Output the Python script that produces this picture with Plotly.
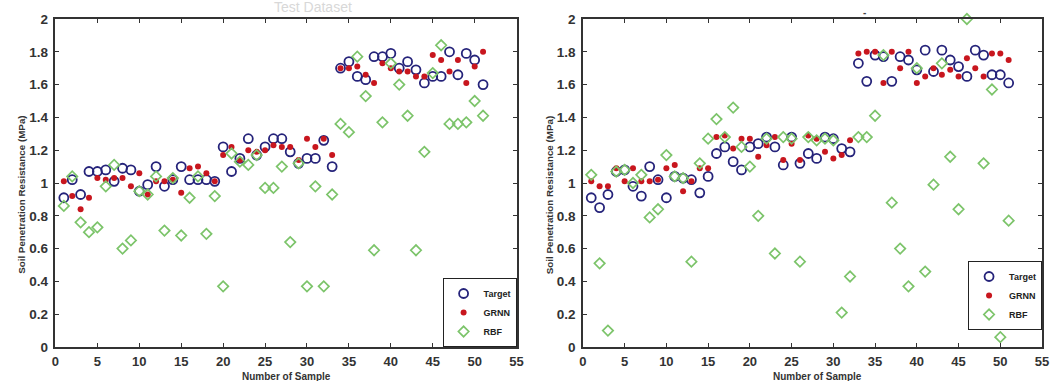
import plotly.graph_objects as go

samples = list(range(1, 52))

target_left = [0.91,1.02,0.93,1.07,1.07,1.08,1.01,1.09,1.08,0.95,
               0.99,1.10,0.98,1.02,1.10,1.02,1.02,1.02,1.01,1.22,
               1.07,1.15,1.27,1.17,1.22,1.27,1.27,1.19,1.12,1.15,
               1.15,1.26,1.10,1.70,1.74,1.65,1.63,1.77,1.77,1.79,
               1.70,1.74,1.69,1.61,1.65,1.65,1.80,1.66,1.79,1.75,1.60]
grnn_left = [1.01,0.92,0.84,0.91,1.03,1.02,1.03,1.03,0.98,1.06,
             0.93,1.01,1.01,1.02,0.94,1.09,1.10,1.06,1.01,1.17,
             1.22,1.14,1.20,1.19,1.20,1.23,1.22,1.22,1.14,1.27,
             1.22,1.27,1.17,1.70,1.70,1.71,1.66,1.61,1.73,1.70,
             1.68,1.68,1.65,1.65,1.78,1.75,1.68,1.75,1.61,1.71,1.80]
rbf_left = [0.86,1.04,0.76,0.70,0.73,0.98,1.11,0.60,0.65,0.95,
            0.93,1.04,0.71,1.03,0.68,0.91,1.04,0.69,0.92,0.37,
            1.18,1.13,1.11,1.17,0.97,0.97,1.10,0.64,1.12,0.37,
            0.98,0.37,0.93,1.36,1.31,1.77,1.53,0.59,1.37,1.73,
            1.60,1.41,0.59,1.19,1.67,1.84,1.36,1.36,1.37,1.50,1.41]

target_right = [0.91,0.85,0.93,1.07,1.08,0.98,0.92,1.10,1.02,0.91,
                1.04,1.03,1.02,0.94,1.04,1.18,1.22,1.13,1.08,1.22,
                1.24,1.28,1.22,1.11,1.28,1.12,1.18,1.15,1.28,1.27,
                1.21,1.19,1.73,1.62,1.78,1.77,1.62,1.77,1.75,1.69,
                1.81,1.68,1.81,1.75,1.71,1.65,1.81,1.78,1.66,1.66,1.61]
grnn_right = [1.01,0.98,0.98,1.09,1.01,1.09,1.01,1.01,1.02,1.09,
              1.11,0.95,1.01,1.09,1.09,1.28,1.29,1.21,1.27,1.27,
              1.16,1.23,1.28,1.14,1.24,1.14,1.29,1.27,1.19,1.15,
              1.17,1.26,1.79,1.80,1.80,1.61,1.80,1.70,1.80,1.61,
              1.65,1.70,1.66,1.69,1.65,1.76,1.70,1.65,1.79,1.79,1.75]
rbf_right = [1.05,0.51,0.10,1.07,1.08,1.00,1.05,0.79,0.84,1.17,
             1.04,1.03,0.52,1.12,1.27,1.39,1.28,1.46,1.22,1.10,
             0.80,1.27,0.57,1.28,1.27,0.52,1.28,1.26,1.27,1.26,
             0.21,0.43,1.28,1.28,1.41,1.78,0.88,0.60,0.37,1.70,
             0.46,0.99,1.73,1.16,0.84,2.00,0.46,1.12,1.57,0.06,0.77]

x_ticks = [0, 5, 10, 15, 20, 25, 30, 35, 40, 45, 50, 55]
x_ticktext = ["0", "5", "10", "15", "20", "25", "30", "35", "40", "45", "50", "55"]
y_ticks = [0, 0.2, 0.4, 0.6, 0.8, 1, 1.2, 1.4, 1.6, 1.8, 2]
y_ticktext = ["0", "0.2", "0.4", "0.6", "0.8", "1", "1.2", "1.4", "1.6", "1.8", "2"]

series_names = ["Target", "GRNN", "RBF"]

NAVY = "#25237a"
RED = "#c8161e"
GREEN = "#7cc46a"
FONT = "Liberation Sans, Arial, sans-serif"

fig = go.Figure()

def add_panel(target, grnn, rbf, xa, ya, legend):
    fig.add_trace(go.Scatter(
        x=samples, y=target, mode="markers", name=series_names[0],
        xaxis=xa, yaxis=ya, legend=legend, cliponaxis=False,
        marker=dict(symbol="circle-open", size=9, color=NAVY, line=dict(width=1.8, color=NAVY))))
    fig.add_trace(go.Scatter(
        x=samples, y=grnn, mode="markers", name=series_names[1],
        xaxis=xa, yaxis=ya, legend=legend, cliponaxis=False,
        marker=dict(symbol="circle", size=6, color=RED, line=dict(width=0))))
    fig.add_trace(go.Scatter(
        x=samples, y=rbf, mode="markers", name=series_names[2],
        xaxis=xa, yaxis=ya, legend=legend, cliponaxis=False,
        marker=dict(symbol="diamond-open", size=8, color=GREEN, line=dict(width=1.7, color=GREEN))))

add_panel(target_left, grnn_left, rbf_left, "x", "y", "legend")
add_panel(target_right, grnn_right, rbf_right, "x2", "y2", "legend2")

W, H = 1054, 381
T, B = 19, 34
ph = H - T - B

def xaxis_cfg(domain, anchor):
    return dict(domain=domain, anchor=anchor, range=[0, 55],
                tickmode="array", tickvals=x_ticks, ticktext=x_ticktext,
                ticks="inside", ticklen=4, tickwidth=1.2, tickcolor="#333",
                showline=True, linecolor="#333", linewidth=1.5, mirror="ticks",
                showgrid=False, zeroline=False, ticklabelstandoff=2,
                tickfont=dict(family=FONT, size=13, color="#333", weight="bold"))

def yaxis_cfg(anchor):
    return dict(domain=[0, 1], anchor=anchor, range=[0, 2],
                tickmode="array", tickvals=y_ticks, ticktext=y_ticktext,
                ticks="inside", ticklen=4, tickwidth=1.2, tickcolor="#333",
                showline=True, linecolor="#333", linewidth=1.5, mirror="ticks",
                showgrid=False, zeroline=False, ticklabelstandoff=3,
                tickfont=dict(family=FONT, size=13.5, color="#333", weight="bold"))

legend_common = dict(bgcolor="white", bordercolor="#222", borderwidth=1,
                     font=dict(family=FONT, size=9, color="#222", weight="bold"),
                     itemwidth=30, tracegroupgap=0, xanchor="right", yanchor="bottom")

fig.update_layout(
    width=W, height=H,
    margin=dict(l=0, r=0, t=T, b=B),
    paper_bgcolor="white", plot_bgcolor="white",
    showlegend=True,
    xaxis=xaxis_cfg([52 / W, 518 / W], "y"),
    yaxis=yaxis_cfg("x"),
    xaxis2=xaxis_cfg([585 / W, 1049 / W], "y2"),
    yaxis2=yaxis_cfg("x2"),
    legend=dict(x=518 / W, y=0, **legend_common),
    legend2=dict(x=1049 / W, y=(347 - 330) / ph, **legend_common),
)

def ytitle(xpix):
    return dict(text="Soil Penetration Resistance (MPa)", xref="paper", yref="paper",
                x=xpix / W, y=(347 - 195) / ph, textangle=-90, showarrow=False,
                xanchor="center", yanchor="middle",
                font=dict(family=FONT, size=9.8, color="#333", weight="bold"))

def xtitle(xpix):
    return dict(text="Number of Sample", xref="paper", yref="paper",
                x=xpix / W, y=(347 - 376) / ph, showarrow=False,
                xanchor="center", yanchor="middle",
                font=dict(family=FONT, size=10, color="#333", weight="bold"))

fig.update_layout(annotations=[
    ytitle(17), ytitle(551), xtitle(285), xtitle(822),
    dict(text="Test Dataset", xref="paper", yref="paper", x=312 / W, y=(347 - 7) / ph,
         showarrow=False, xanchor="center", yanchor="middle",
         font=dict(family=FONT, size=14, color="#d8d8d8")),
    dict(text="-", xref="paper", yref="paper", x=870 / W, y=(347 - 12) / ph,
         showarrow=False, xanchor="center", yanchor="middle",
         font=dict(family=FONT, size=10, color="#444", weight="bold")),
])

fig.write_html("out.html")
